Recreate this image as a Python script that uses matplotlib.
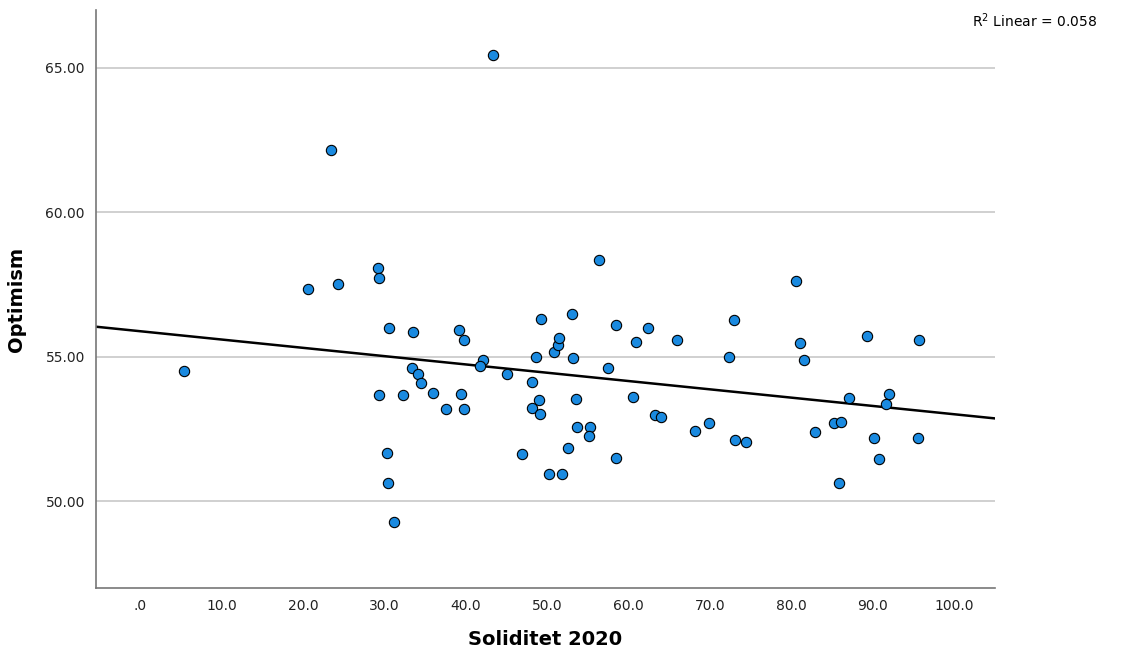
import numpy as np
import matplotlib
matplotlib.use("Agg")
import matplotlib.pyplot as plt

# values
soliditet = [5.4, 20.6, 23.4, 24.3, 29.2, 29.3, 29.4, 30.6, 30.3, 30.5, 31.2,
             32.3, 33.5, 33.4, 34.1, 34.5, 36.0, 37.6, 39.2, 39.8, 39.4, 39.8,
             42.1, 41.8, 43.4, 45.1, 46.9, 48.1, 49.0, 48.2, 49.1, 48.6, 49.2,
             50.2, 51.8, 50.9, 51.3, 51.5, 52.6, 53.1, 53.2, 53.6, 53.7, 55.3,
             55.2, 56.4, 57.5, 58.4, 58.4, 60.6, 60.9, 62.4, 63.3, 64.0, 65.9,
             68.1, 69.9, 72.3, 73.0, 73.1, 74.4, 80.6, 81.1, 81.6, 82.9, 85.2,
             86.1, 85.8, 87.1, 89.3, 90.1, 90.7, 92.0, 91.6, 95.7, 95.6]
optimism = [54.52, 57.34, 62.14, 57.52, 58.07, 57.72, 53.69, 56.00, 51.68, 50.64, 49.29,
            53.69, 55.86, 54.62, 54.41, 54.10, 53.76, 53.21, 55.94, 55.57, 53.73, 53.18,
            54.90, 54.67, 65.45, 54.39, 51.63, 54.14, 53.49, 53.23, 53.02, 54.98, 56.32,
            50.94, 50.93, 55.16, 55.40, 55.64, 51.84, 56.49, 54.95, 53.54, 52.56, 52.58,
            52.27, 58.34, 54.60, 56.09, 51.51, 53.61, 55.50, 55.98, 53.00, 52.92, 55.57,
            52.45, 52.71, 54.98, 56.28, 52.11, 52.06, 57.62, 55.48, 54.89, 52.39, 52.71,
            52.73, 50.64, 53.56, 55.71, 52.20, 51.45, 53.71, 53.37, 55.59, 52.20]

x_ticks = [0, 10, 20, 30, 40, 50, 60, 70, 80, 90, 100]
x_labels = [".0", "10.0", "20.0", "30.0", "40.0", "50.0", "60.0", "70.0", "80.0", "90.0", "100.0"]
y_ticks = [50, 55, 60, 65]
y_labels = ["50.00", "55.00", "60.00", "65.00"]

fig = plt.figure(figsize=(11.28, 6.54), dpi=100)
ax = fig.add_axes([0.0851, 0.1009, 0.7970, 0.8838])

xlim = (-5.4, 105.0)
ylim = (47.0, 67.0)

# horizontal grid lines
for yt in y_ticks:
    ax.axhline(yt, color="#c8c8c8", linewidth=1.2, zorder=1)

# fit line over the whole x range
slope, intercept = np.polyfit(soliditet, optimism, 1)
xs = np.array(xlim)
ax.plot(xs, intercept + slope * xs, color="black", linewidth=1.8, zorder=2)

ax.scatter(soliditet, optimism, s=55, color="#1a8ae0", edgecolor="black",
           linewidth=0.8, zorder=3)

ax.set_xlim(*xlim)
ax.set_ylim(*ylim)
ax.set_xticks(x_ticks)
ax.set_xticklabels(x_labels)
ax.set_yticks(y_ticks)
ax.set_yticklabels(y_labels)
ax.tick_params(length=0, labelsize=10, colors="#222222", pad=8)
ax.tick_params(axis="x", pad=8)

for side in ["top", "right"]:
    ax.spines[side].set_visible(False)
for side in ["left", "bottom"]:
    ax.spines[side].set_color("#777777")
    ax.spines[side].set_linewidth(1.2)

ax.set_xlabel("Soliditet 2020", fontsize=14, fontweight="bold", labelpad=12)
ax.set_ylabel("Optimism", fontsize=14, fontweight="bold", labelpad=14)

fig.text(0.973, 0.968, r"R$^2$ Linear = 0.058", ha="right", va="center", fontsize=10)

fig.savefig("out.png", dpi=100)
